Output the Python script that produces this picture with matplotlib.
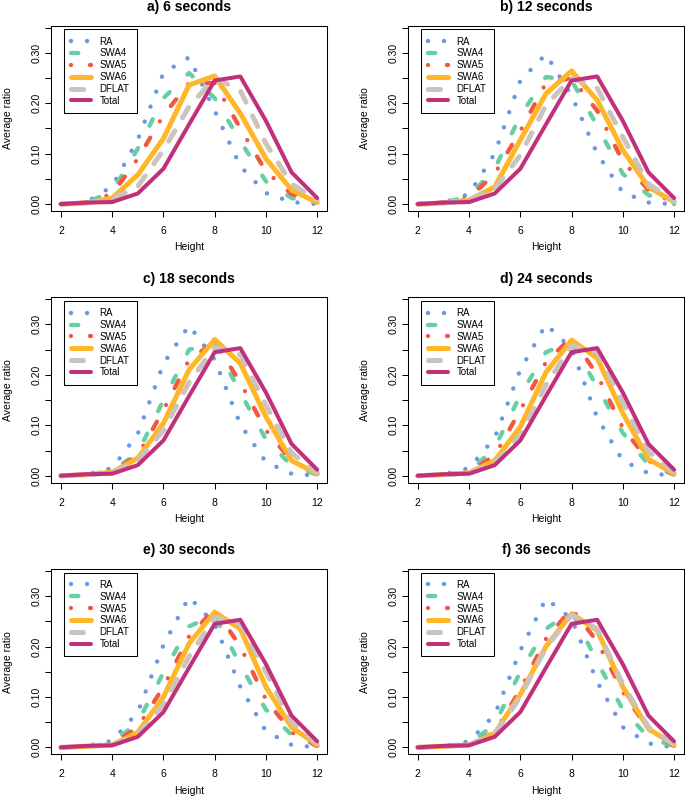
import numpy as np
import matplotlib
matplotlib.use("Agg")
import matplotlib.pyplot as plt
from matplotlib.ticker import FuncFormatter

plt.rcParams['font.family'] = ['Liberation Sans', 'DejaVu Sans']

heights = [2, 3, 4, 5, 6, 7, 8, 9, 10, 11, 12]
titles = ["a) 6 seconds", "b) 12 seconds", "c) 18 seconds",
          "d) 24 seconds", "e) 30 seconds", "f) 36 seconds"]
names = ["RA", "SWA4", "SWA5", "SWA6", "DFLAT", "Total"]

# one row per panel (6, 12, 18, 24, 30, 36 s)
ra = [
    [0, .004, .035, .128, .260, .291, .185, .075, .022, .004, 0],
    [0, .003, .020, .100, .245, .297, .215, .100, .023, .003, 0],
    [0, .003, .015, .083, .222, .298, .230, .102, .027, .004, 0],
    [0, .003, .015, .075, .210, .300, .252, .115, .030, .005, 0],
    [0, .003, .013, .070, .203, .298, .245, .120, .032, .005, 0],
    [0, .003, .012, .065, .192, .295, .255, .130, .040, .008, 0],
]
swa4 = [
    [0, .003, .025, .110, .210, .260, .210, .125, .045, .012, 0],
    [0, .003, .015, .070, .175, .252, .245, .155, .060, .018, 0],
    [0, .002, .010, .045, .150, .250, .262, .165, .072, .020, .002],
    [0, .002, .008, .055, .160, .245, .265, .176, .085, .022, .002],
    [0, .002, .008, .050, .148, .240, .262, .163, .075, .025, .003],
    [0, .002, .008, .045, .150, .235, .270, .170, .075, .020, .002],
]
swa5 = [
    [0, .003, .020, .090, .176, .240, .240, .150, .065, .020, .003],
    [0, .003, .012, .060, .145, .240, .250, .185, .085, .028, .002],
    [0, .002, .008, .040, .130, .230, .265, .185, .090, .030, .003],
    [0, .002, .007, .040, .130, .225, .275, .200, .095, .030, .003],
    [0, .002, .006, .040, .120, .220, .275, .200, .095, .030, .003],
    [0, .002, .006, .030, .115, .215, .275, .210, .110, .035, .003],
]
swa6 = [
    [0, .002, .012, .058, .130, .236, .254, .180, .090, .028, .003],
    [0, .002, .008, .034, .127, .219, .264, .206, .107, .034, .004],
    [0, .002, .007, .035, .104, .210, .270, .223, .117, .030, .004],
    [0, .002, .006, .030, .097, .205, .269, .233, .124, .033, .004],
    [0, .002, .005, .030, .100, .206, .268, .235, .120, .040, .005],
    [0, .002, .005, .028, .105, .200, .265, .232, .120, .037, .005],
]
dflat = [
    [0, .002, .010, .035, .107, .193, .250, .225, .120, .040, .008],
    [0, .002, .008, .030, .097, .196, .250, .230, .133, .040, .006],
    [0, .002, .006, .030, .090, .185, .255, .240, .140, .045, .006],
    [0, .002, .005, .025, .080, .180, .258, .245, .145, .048, .007],
    [0, .002, .005, .025, .085, .180, .258, .245, .150, .050, .008],
    [0, .002, .005, .027, .100, .198, .262, .235, .125, .040, .006],
]
total = [0, .003, .004, .021, .070, .158, .245, .253, .165, .063, .012]

# colour, width (pt), dash pattern (in linewidths)
styles = {
    "RA":    ("#6A96E6", 3.2, (0, (0.01, 3.6))),
    "SWA4":  ("#66CFA5", 3.1, (0, (1.7, 5.8))),
    "SWA5":  ("#F2573F", 3.1, (0, (0.01, 4.4, 2.0, 4.4))),
    "SWA6":  ("#FFB628", 3.6, "-"),
    "DFLAT": ("#CBC3BD", 3.6, (0, (2.4, 3.0))),
    "Total": ("#C1307A", 2.9, "-"),
}
data = {"RA": ra, "SWA4": swa4, "SWA5": swa5, "SWA6": swa6, "DFLAT": dflat}

fig = plt.figure(figsize=(6.85, 7.99), dpi=100)
lefts = [0.074, 0.595]
bottoms = [0.736, 0.396, 0.056]
W, H = 0.404, 0.2318


def ylab(v, pos):
    if abs(v * 10 - round(v * 10)) < 1e-6:
        return f"{v:.2f}"
    return ""


for i in range(6):
    r, c = divmod(i, 2)
    ax = fig.add_axes([lefts[c], bottoms[r], W, H])
    for name in names:
        vals = total if name == "Total" else data[name][i]
        col, lw, ls = styles[name]
        ax.plot(heights, vals, color=col, lw=lw, ls=ls, label=name,
                dash_capstyle='round', solid_capstyle='round',
                solid_joinstyle='round', dash_joinstyle='round')

    ax.set_xlim(1.6, 12.4)
    ax.set_ylim(-0.0136, 0.3536)
    ax.set_xticks(range(2, 13, 2))
    ax.set_yticks(np.arange(0, 0.36, 0.05))
    ax.yaxis.set_major_formatter(FuncFormatter(ylab))
    ax.tick_params(direction='out', length=4.3, width=0.75, labelsize=7.5)
    ax.tick_params(axis='x', pad=6.5)
    ax.tick_params(axis='y', pad=2.5, labelrotation=90)
    plt.setp(ax.get_yticklabels(), va='center')
    for s in ax.spines.values():
        s.set_linewidth(0.75)

    ax.set_title(titles[i], fontsize=10, fontweight='bold', pad=10.5)
    ax.set_xlabel("Height", fontsize=7.5)
    ax.set_ylabel("Average ratio", fontsize=7.5)
    ax.xaxis.set_label_coords(0.5, -0.17)
    ax.yaxis.set_label_coords(-0.136, 0.5)

    leg = ax.legend(loc='upper left', bbox_to_anchor=(0.048, 0.981),
                    borderaxespad=0, fontsize=7, handlelength=2.0,
                    handletextpad=0.9, labelspacing=0.19, borderpad=0.75,
                    fancybox=False, edgecolor='black', framealpha=1)
    leg.get_frame().set_linewidth(0.75)

fig.savefig("out.png", dpi=100)
